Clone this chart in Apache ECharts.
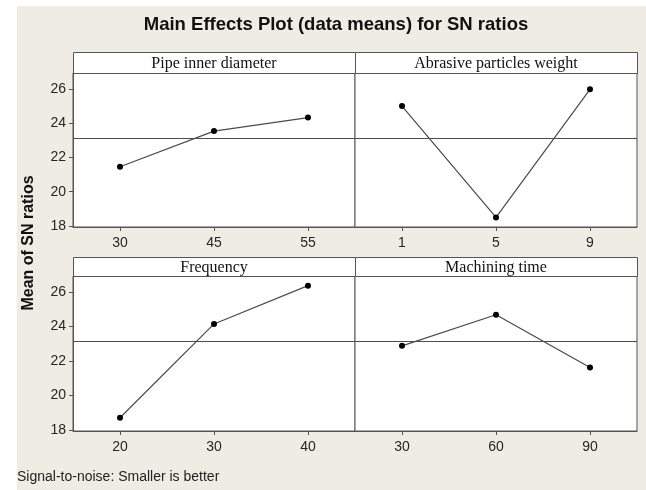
<!DOCTYPE html>
<html>
<head>
<meta charset="utf-8">
<script src="https://cdn.jsdelivr.net/npm/echarts@6/dist/echarts.min.js"></script>
<style>
html,body{margin:0;padding:0;background:#fff;}
#chart{width:646px;height:490px;}
</style>
</head>
<body>
<div id="chart"></div>
<script>
// ---- data ----
const chartTitle = 'Main Effects Plot (data means) for SN ratios';
const yAxisTitle = 'Mean of SN ratios';
const footNote = 'Signal-to-noise: Smaller is better';
const panelTitles = ['Pipe inner diameter', 'Abrasive particles weight', 'Frequency', 'Machining time'];
const pipeLevels = ['30', '45', '55'];
const pipeSN = [21.46, 23.54, 24.33];
const abrasiveLevels = ['1', '5', '9'];
const abrasiveSN = [25.0, 18.5, 25.98];
const freqLevels = ['20', '30', '40'];
const freqSN = [18.71, 24.15, 26.37];
const timeLevels = ['30', '60', '90'];
const timeSN = [22.88, 24.68, 21.62];
const grandMean = 23.13;
const yTicks = [18, 20, 22, 24, 26];

// ---- layout ----
const W = 646, H = 490;
const panelLeft = [73, 355, 73, 355];
const panelTop = [73, 73, 276, 276];
const panelW = 282;
const panelH = [154, 154, 155, 155];
const stripTop = [52, 52, 257, 257];
const yMin = 17.94, yMax = 26.93;
const axisColor = '#555';
const labelColor = '#262626';

const levels = [pipeLevels, abrasiveLevels, freqLevels, timeLevels];
const values = [pipeSN, abrasiveSN, freqSN, timeSN];

const grids = [], xAxes = [], yAxes = [], series = [];
for (let i = 0; i < 4; i++) {
  grids.push({
    left: panelLeft[i], top: panelTop[i], width: panelW, height: panelH[i],
    show: true, backgroundColor: '#fff', borderColor: axisColor, borderWidth: 1, containLabel: false
  });
  xAxes.push({
    type: 'category', gridIndex: i, data: levels[i], boundaryGap: true,
    axisLine: {show: true, lineStyle: {color: axisColor, width: 1}},
    axisTick: {show: true, alignWithLabel: true, length: 4, lineStyle: {color: axisColor}},
    axisLabel: {show: true, color: labelColor, fontSize: 14, fontFamily: 'Liberation Sans', margin: 9},
    splitLine: {show: false}
  });
  const left = (i % 2 === 0);
  yAxes.push({
    type: 'value', gridIndex: i, min: yMin, max: yMax,
    axisLine: {show: left, lineStyle: {color: axisColor, width: 1}},
    axisTick: {show: left, length: 4, lineStyle: {color: axisColor}, customValues: yTicks},
    axisLabel: {show: left, color: labelColor, fontSize: 14, fontFamily: 'Liberation Sans', margin: 7, customValues: yTicks},
    splitLine: {show: false}
  });
  series.push({
    type: 'line', xAxisIndex: i, yAxisIndex: i, data: values[i],
    symbol: 'circle', symbolSize: 6, showSymbol: true,
    itemStyle: {color: '#000'},
    lineStyle: {color: '#4a4a4a', width: 1.2},
    animation: false, silent: true,
    markLine: {
      silent: true, symbol: 'none', animation: false,
      label: {show: false},
      lineStyle: {color: '#4d4d4d', width: 1, type: 'solid'},
      data: [{yAxis: grandMean}]
    }
  });
}

const graphics = [
  {type: 'rect', shape: {x: 0, y: 0, width: 17, height: H}, style: {fill: '#fff'}, silent: true},
  {type: 'rect', shape: {x: 0, y: 0, width: W, height: 6}, style: {fill: '#fff'}, silent: true},
  {type: 'text', x: 336, y: 25, silent: true,
   style: {text: chartTitle, fontSize: 18.5, fontWeight: 'bold', fontFamily: 'Liberation Sans', fill: '#111', textAlign: 'center', textVerticalAlign: 'middle'}},
  {type: 'text', x: 29, y: 243, rotation: Math.PI / 2, silent: true,
   style: {text: yAxisTitle, fontSize: 16, fontWeight: 'bold', fontFamily: 'Liberation Sans', fill: '#111', textAlign: 'center', textVerticalAlign: 'middle'}},
  {type: 'text', x: 17, y: 477, silent: true,
   style: {text: footNote, fontSize: 14, fontFamily: 'Liberation Sans', fill: '#222', textAlign: 'left', textVerticalAlign: 'middle'}}
];
for (let i = 0; i < 4; i++) {
  const sh = panelTop[i] - stripTop[i];
  graphics.push({type: 'rect', silent: true,
    shape: {x: panelLeft[i] + 0.5, y: stripTop[i] + 0.5, width: panelW, height: sh},
    style: {fill: '#fff', stroke: axisColor, lineWidth: 1}});
  graphics.push({type: 'text', silent: true, x: panelLeft[i] + panelW / 2, y: stripTop[i] + sh / 2 + 1,
    style: {text: panelTitles[i], fontSize: 16, fontFamily: 'Liberation Serif', fill: '#111', textAlign: 'center', textVerticalAlign: 'middle'}});
}

const chart = echarts.init(document.getElementById('chart'), null, {renderer: 'canvas'});
chart.setOption({
  backgroundColor: '#efece4',
  animation: false,
  grid: grids, xAxis: xAxes, yAxis: yAxes, series: series,
  graphic: graphics
});
</script>
</body>
</html>
